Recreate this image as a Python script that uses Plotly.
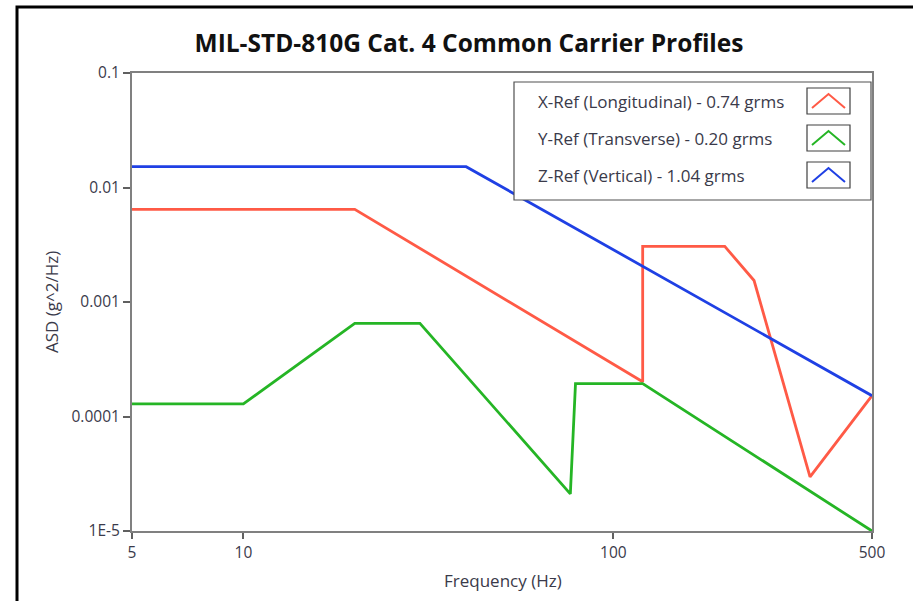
import plotly.graph_objects as go
import math

# ---------------- data ----------------
x_ref_freq = [5, 20, 120, 120, 200, 240, 340, 500]
x_ref_asd = [0.00645, 0.00645, 0.000201, 0.00306, 0.00306, 0.00154, 0.0000297, 0.000152]

y_ref_freq = [5, 10, 20, 30, 76.5, 79, 120, 500]
y_ref_asd = [0.000129, 0.000129, 0.00065, 0.00065, 0.0000211, 0.000194, 0.000194, 0.00001]

z_ref_freq = [5, 40, 500]
z_ref_asd = [0.0152, 0.0152, 0.000152]

series_names = ["X-Ref (Longitudinal) - 0.74 grms",
                "Y-Ref (Transverse) - 0.20 grms",
                "Z-Ref (Vertical) - 1.04 grms"]
series_colors = ["#ff5a46", "#25b525", "#1f40e4"]

x_tickvals = [5, 10, 100, 500]
x_ticktext = ["5", "10", "100", "500"]
y_tickvals = [1e-5, 1e-4, 1e-3, 1e-2, 1e-1]
y_ticktext = ["1E-5", "0.0001", "0.001", "0.01", "0.1"]

# ---------------- layout geometry ----------------
W, H = 913, 601
L, R, T, B = 132, 872, 73, 531


def px(xp):
    return (xp - L) / (R - L)


def py(yp):
    return (B - yp) / (B - T)


FONT = "Open Sans"
TXT = "#3a3a4a"

fig = go.Figure()
for f, a, n, c in zip([x_ref_freq, y_ref_freq, z_ref_freq],
                      [x_ref_asd, y_ref_asd, z_ref_asd],
                      series_names, series_colors):
    fig.add_trace(go.Scatter(x=f, y=a, mode="lines", name=n,
                             line=dict(color=c, width=2.8), showlegend=False))

shapes = []
annotations = []

# outer black frame (cropped on right/bottom)
shapes.append(dict(type="rect", xref="paper", yref="paper",
                   x0=px(17), x1=px(930), y0=py(620), y1=py(7),
                   line=dict(color="black", width=3), layer="below"))

# legend box
shapes.append(dict(type="rect", xref="paper", yref="paper",
                   x0=px(514), x1=px(871), y0=py(200), y1=py(82),
                   line=dict(color="#505050", width=1.2), fillcolor="white", layer="above"))
rows_y = [101, 138, 175]
for n, c, ry in zip(series_names, series_colors, rows_y):
    annotations.append(dict(x=px(536), y=py(ry), xref="paper", yref="paper",
                            text=n, showarrow=False, xanchor="left", yanchor="middle",
                            font=dict(family=FONT, size=17, color=TXT)))
    shapes.append(dict(type="rect", xref="paper", yref="paper",
                       x0=px(807), x1=px(850), y0=py(ry + 13), y1=py(ry - 13),
                       line=dict(color="#404040", width=1.2), fillcolor="white", layer="above"))
    path = "M {} {} L {} {} L {} {}".format(px(812), py(ry + 7), px(828.5), py(ry - 7),
                                           px(845), py(ry + 7))
    shapes.append(dict(type="path", xref="paper", yref="paper", path=path,
                       line=dict(color=c, width=2), layer="above"))

# axis titles as annotations for exact placement
annotations.append(dict(x=px(503), y=py(580), xref="paper", yref="paper",
                        text="Frequency (Hz)", showarrow=False,
                        xanchor="center", yanchor="middle",
                        font=dict(family=FONT, size=17, color=TXT)))
annotations.append(dict(x=px(51), y=py(302), xref="paper", yref="paper",
                        text="ASD (g^2/Hz)", showarrow=False, textangle=-90,
                        xanchor="center", yanchor="middle",
                        font=dict(family=FONT, size=17, color=TXT)))

fig.update_layout(
    width=W, height=H,
    margin=dict(l=L, r=W - R, t=T, b=H - B),
    paper_bgcolor="white", plot_bgcolor="white",
    title=dict(text="<b>MIL-STD-810G Cat. 4 Common Carrier Profiles</b>",
               x=469 / W, xanchor="center", y=1 - 43 / H, yanchor="middle",
               font=dict(family=FONT, size=24.5, color="#111111")),
    shapes=shapes, annotations=annotations,
    xaxis=dict(type="log", range=[math.log10(5), math.log10(500)],
               tickvals=x_tickvals, ticktext=x_ticktext,
               showgrid=False, zeroline=False,
               showline=True, linecolor="#808080", linewidth=2, mirror=True,
               ticks="outside", ticklen=6, tickcolor="#606060", tickwidth=1.5,
               tickfont=dict(family=FONT, size=15.5, color=TXT)),
    yaxis=dict(type="log", range=[-5, -1],
               tickvals=y_tickvals, ticktext=y_ticktext,
               showgrid=False, zeroline=False,
               showline=True,
               linecolor="#808080", linewidth=2, mirror=True,
               ticks="outside", ticklen=7, tickcolor="#606060", tickwidth=1.5,
               tickfont=dict(family=FONT, size=15.5, color=TXT)),
)

fig.write_html("out.html")
